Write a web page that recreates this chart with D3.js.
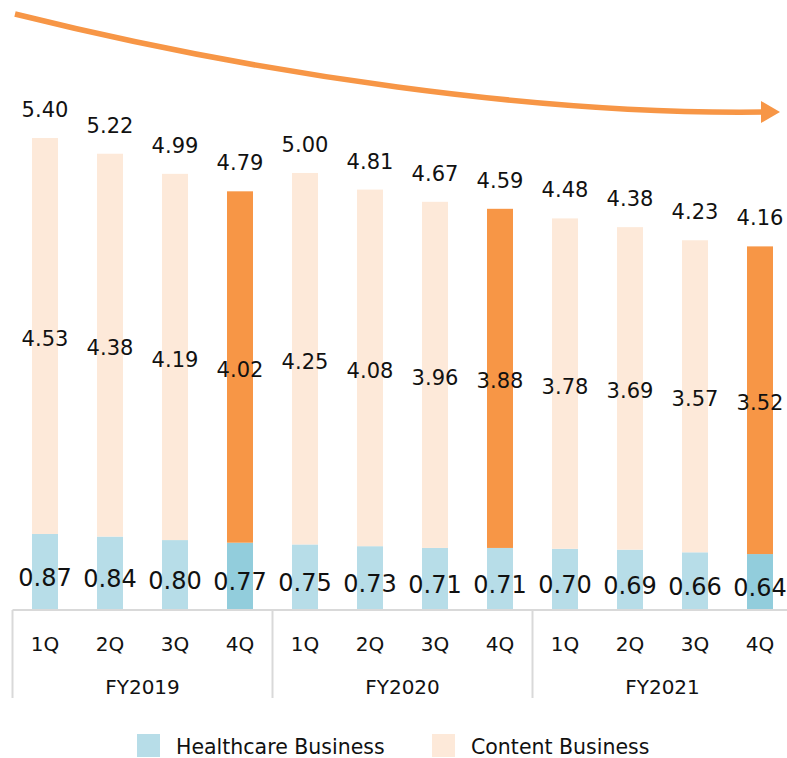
<!DOCTYPE html>
<html lang="en">
<head>
    <meta charset="UTF-8">
    <title>Quarterly Business Chart</title>
    <style>
        body { margin: 0; background: #fff; }
        svg text { font-family: "DejaVu Sans", Verdana, sans-serif; fill: #111; }
    </style>
</head>
<body>
    <div id="chart"></div>

    <script src="https://d3js.org/d3.v7.min.js"></script>
    <script>
        const years = ["FY2019", "FY2020", "FY2021"];
        const quarters = ["1Q", "2Q", "3Q", "4Q"];
        const healthcare = [0.87, 0.84, 0.80, 0.77, 0.75, 0.73, 0.71, 0.71, 0.70, 0.69, 0.66, 0.64];
        const content = [4.53, 4.38, 4.19, 4.02, 4.25, 4.08, 3.96, 3.88, 3.78, 3.69, 3.57, 3.52];
        const totals = [5.40, 5.22, 4.99, 4.79, 5.00, 4.81, 4.67, 4.59, 4.48, 4.38, 4.23, 4.16];
        // which bars get the darker healthcare colour
        const darkHc = ["FY20194Q", "FY20214Q"];

        const width = 787, height = 758;
        const baseY = 610;

        const rows = [];
        years.forEach((y, yi) => quarters.forEach((q, qi) => {
            const i = yi * 4 + qi;
            rows.push({ key: y + q, year: y, q: q, hc: healthcare[i], ct: content[i], total: totals[i] });
        }));

        const svg = d3.select("#chart").append("svg")
            .attr("width", width)
            .attr("height", height);

        const x = d3.scaleBand()
            .domain(rows.map(d => d.key))
            .range([12.5, 792.5])
            .paddingInner(0.6)
            .paddingOuter(0.3);

        const y = d3.scaleLinear()
            .domain([0, 5.40])
            .range([baseY, 138]);

        const yearX = d3.scaleBand().domain(years).range([12.5, 792.5]);

        // trend arrow
        const arrow = d3.path();
        arrow.moveTo(15, 14);
        arrow.bezierCurveTo(260, 75, 540, 115, 764, 112);
        svg.append("path")
            .attr("d", arrow.toString())
            .attr("fill", "none")
            .attr("stroke", "#f79646")
            .attr("stroke-width", 5.5);
        svg.append("path")
            .attr("d", "M761,101 L780,112 L761,123 Z")
            .attr("fill", "#f79646");

        // bars
        const bars = svg.append("g");
        bars.selectAll(".hc")
            .data(rows)
            .enter().append("rect")
            .attr("x", d => x(d.key))
            .attr("width", x.bandwidth())
            .attr("y", d => y(d.hc))
            .attr("height", d => baseY - y(d.hc))
            .attr("fill", d => darkHc.includes(d.key) ? "#92cddc" : "#b7dde8");

        bars.selectAll(".ct")
            .data(rows)
            .enter().append("rect")
            .attr("x", d => x(d.key))
            .attr("width", x.bandwidth())
            .attr("y", d => y(d.hc + d.ct))
            .attr("height", d => y(d.hc) - y(d.hc + d.ct))
            .attr("fill", d => d.q === "4Q" ? "#f79646" : "#fde9d9");

        const cx = d => x(d.key) + x.bandwidth() / 2;

        // labels
        svg.append("g").selectAll("text")
            .data(rows)
            .enter().append("text")
            .attr("x", cx)
            .attr("y", d => y(d.total) - 21)
            .attr("text-anchor", "middle")
            .style("font-size", "21px")
            .text(d => d.total.toFixed(2));

        svg.append("g").selectAll("text")
            .data(rows)
            .enter().append("text")
            .attr("x", cx)
            .attr("y", d => (y(d.hc) + y(d.hc + d.ct)) / 2 + 10)
            .attr("text-anchor", "middle")
            .style("font-size", "21px")
            .text(d => d.ct.toFixed(2));

        svg.append("g").selectAll("text")
            .data(rows)
            .enter().append("text")
            .attr("x", cx)
            .attr("y", d => (y(d.hc) + baseY) / 2 + 14)
            .attr("text-anchor", "middle")
            .style("font-size", "24px")
            .text(d => d.hc.toFixed(2));

        // category axis
        const axis = svg.append("g").attr("stroke", "#d9d9d9").attr("stroke-width", 2);
        axis.append("line")
            .attr("x1", 12.5).attr("x2", width)
            .attr("y1", baseY).attr("y2", baseY);
        axis.selectAll(".div")
            .data(years)
            .enter().append("line")
            .attr("x1", d => yearX(d)).attr("x2", d => yearX(d))
            .attr("y1", baseY).attr("y2", 698);

        svg.append("g").selectAll("text")
            .data(rows)
            .enter().append("text")
            .attr("x", cx)
            .attr("y", 651)
            .attr("text-anchor", "middle")
            .style("font-size", "20px")
            .text(d => d.q);

        svg.append("g").selectAll("text")
            .data(years)
            .enter().append("text")
            .attr("x", d => yearX(d) + yearX.bandwidth() / 2)
            .attr("y", 694)
            .attr("text-anchor", "middle")
            .style("font-size", "20px")
            .text(d => d);

        // legend
        const legendItems = [
            { name: "Healthcare Business", color: "#b7dde8", x: 137 },
            { name: "Content Business", color: "#fde9d9", x: 432 }
        ];
        const legend = svg.append("g").selectAll("g")
            .data(legendItems)
            .enter().append("g")
            .attr("transform", d => `translate(${d.x},734)`);
        legend.append("rect")
            .attr("width", 23).attr("height", 23)
            .attr("fill", d => d.color);
        legend.append("text")
            .attr("x", 39).attr("y", 20)
            .style("font-size", "20.5px")
            .text(d => d.name);
    </script>
</body>
</html>
